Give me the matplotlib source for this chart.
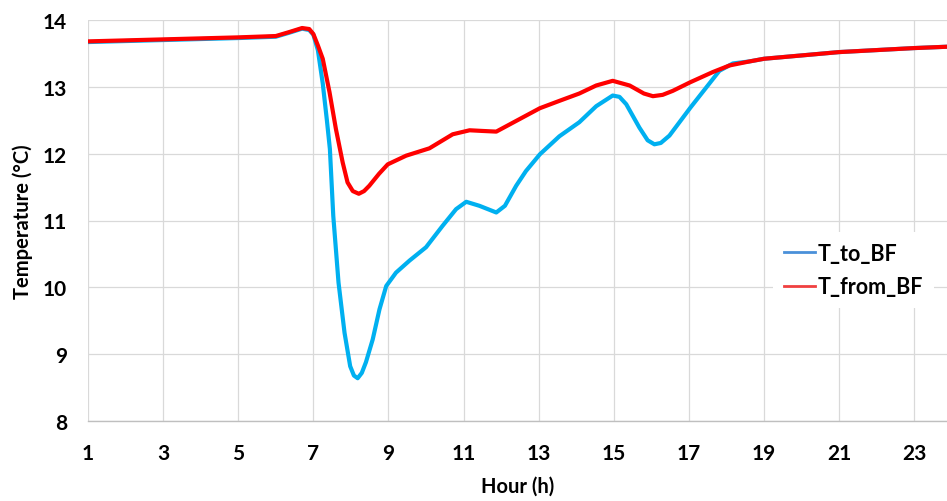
import matplotlib
matplotlib.use("Agg")
import matplotlib.pyplot as plt
from matplotlib.lines import Line2D

plt.rcParams['font.family'] = ['Lato', 'DejaVu Sans']

# Data
hours_to = [1.0, 3.0, 5.0, 6.0, 6.36, 6.7, 6.89, 7.0, 7.12, 7.25, 7.36, 7.44, 7.53,
            7.67, 7.83, 7.98, 8.08, 8.18, 8.29, 8.40, 8.58, 8.76, 8.94, 9.20, 9.56, 10.0,
            10.44, 10.80, 11.07, 11.42, 11.87, 12.10, 12.40, 12.66, 13.03, 13.55, 14.08,
            14.53, 14.97, 15.15, 15.33, 15.68, 15.90, 16.08, 16.25, 16.48, 17.04, 17.46,
            17.81, 18.17, 18.61, 19.0, 20.0, 21.0, 22.0, 23.0, 23.87]
t_to_bf = [13.67, 13.70, 13.73, 13.75, 13.81, 13.87, 13.85, 13.78, 13.55, 13.05, 12.5,
           12.07, 11.07, 10.07, 9.32, 8.82, 8.68, 8.64, 8.72, 8.88, 9.22, 9.67, 10.02,
           10.22, 10.40, 10.60, 10.92, 11.17, 11.28, 11.22, 11.12, 11.22, 11.52, 11.74,
           11.99, 12.26, 12.47, 12.71, 12.87, 12.85, 12.74, 12.39, 12.20, 12.14, 12.16,
           12.27, 12.69, 12.99, 13.24, 13.35, 13.38, 13.42, 13.47, 13.52, 13.55, 13.58,
           13.60]

hours_from = [1.0, 3.0, 5.0, 6.0, 6.36, 6.7, 6.89, 7.0, 7.12, 7.25, 7.43, 7.60, 7.78,
              7.91, 8.05, 8.21, 8.35, 8.49, 8.75, 8.98, 9.47, 10.09, 10.71, 11.16, 11.5,
              11.87, 12.40, 13.03, 13.55, 14.08, 14.53, 14.97, 15.42, 15.80, 16.04, 16.30,
              16.57, 17.04, 17.63, 18.08, 18.61, 19.0, 20.0, 21.0, 22.0, 23.0, 23.87]
t_from_bf = [13.68, 13.71, 13.74, 13.76, 13.82, 13.88, 13.865, 13.79, 13.62, 13.42,
             12.92, 12.37, 11.87, 11.57, 11.44, 11.40, 11.44, 11.52, 11.70, 11.84, 11.97,
             12.08, 12.29, 12.35, 12.34, 12.33, 12.49, 12.68, 12.79, 12.90, 13.02, 13.09,
             13.02, 12.90, 12.86, 12.88, 12.94, 13.07, 13.22, 13.32, 13.38, 13.42, 13.47,
             13.52, 13.55, 13.58, 13.60]

x_ticks = [1, 3, 5, 7, 9, 11, 13, 15, 17, 19, 21, 23]
y_ticks = [8, 9, 10, 11, 12, 13, 14]

fig = plt.figure(figsize=(9.47, 5.02), dpi=100)
ax = fig.add_axes([88 / 947, 1 - 422 / 502, 1 - 88 / 947, (422 - 21) / 502])

ax.plot(hours_to, t_to_bf, color='#00B0F0', lw=3.0, solid_capstyle='round',
        solid_joinstyle='round', zorder=3)
ax.plot(hours_from, t_from_bf, color='#FF0000', lw=3.0, solid_capstyle='round',
        solid_joinstyle='round', zorder=4)

ax.set_xlim(1, 23.87)
ax.set_ylim(8, 14)
ax.set_xticks(x_ticks)
ax.set_yticks(y_ticks)
ax.grid(True, color='#D9D9D9', lw=0.9)
ax.set_axisbelow(True)
for s in ['top', 'right', 'left']:
    ax.spines[s].set_visible(False)
ax.spines['bottom'].set_color('#BFBFBF')
ax.spines['bottom'].set_linewidth(1.0)
ax.tick_params(length=0, labelsize=15, pad=16)
for lab in ax.get_xticklabels() + ax.get_yticklabels():
    lab.set_fontweight('bold')
ax.tick_params(axis='y', pad=15)

ax.set_xlabel('Hour (h)', fontsize=14.5, fontweight='bold', labelpad=9)
ax.set_ylabel('Temperature (°C)', fontsize=14.5, fontweight='bold', labelpad=7)

handles = [Line2D([0], [0], color='#4A90D9', lw=2),
           Line2D([0], [0], color='#F04040', lw=2)]
leg = fig.legend(handles, ['T_to_BF', 'T_from_BF'], loc='upper left',
                 bbox_to_anchor=(762 / 947, 1 - 222 / 502), frameon=True,
                 prop={'weight': 'bold', 'size': 15.5}, handlelength=1.45,
                 handletextpad=0.15, labelspacing=0.6, borderpad=0.5)
leg.get_frame().set_facecolor('white')
leg.get_frame().set_edgecolor('none')
leg.get_frame().set_alpha(1)

fig.savefig('out.png', dpi=100)
